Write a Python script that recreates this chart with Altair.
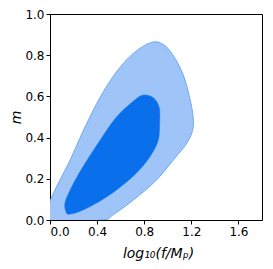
import altair as alt
import pandas as pd

# outer (95%) contour, traced clockwise
outer_x = [0.0, 0.17, 0.28, 0.42, 0.565, 0.71, 0.86, 0.96, 1.045, 1.13, 1.186, 1.215, 1.21, 1.158, 1.045, 0.904, 0.71, 0.537, 0.438, 0.0]
outer_y = [0.09, 0.29, 0.43, 0.59, 0.72, 0.81, 0.862, 0.853, 0.80, 0.706, 0.594, 0.50, 0.434, 0.37, 0.29, 0.194, 0.098, 0.026, 0.0, 0.0]

# inner (68%) contour
inner_x = [0.141, 0.127, 0.184, 0.28, 0.424, 0.565, 0.71, 0.79, 0.876, 0.927, 0.93, 0.918, 0.847, 0.73, 0.565, 0.395, 0.254, 0.17]
inner_y = [0.034, 0.082, 0.16, 0.258, 0.386, 0.50, 0.578, 0.606, 0.594, 0.546, 0.466, 0.386, 0.306, 0.226, 0.146, 0.082, 0.042, 0.029]

outer = pd.DataFrame({"x": outer_x, "y": outer_y, "i": range(len(outer_x))})
inner = pd.DataFrame({"x": inner_x, "y": inner_y, "i": range(len(inner_x))})

xs = alt.Scale(domain=[0, 1.8], nice=False)
ys = alt.Scale(domain=[0, 1.0], nice=False)

xax = alt.Axis(values=[0, 0.4, 0.8, 1.2, 1.6], format=".1f", title="log₁₀(f/Mₚ)",
               titleX=108, titleY=26, titleBaseline="top", titleAlign="center")
yax = alt.Axis(values=[0, 0.2, 0.4, 0.6, 0.8, 1.0], format=".1f", title="m",
               titleX=-27, titleY=103, titleBaseline="bottom", titleAlign="center", titleAngle=270)

o = alt.Chart(outer).mark_line(
    interpolate="cardinal-closed", fill="#9FC5F8", stroke="#6FA8EE",
    strokeWidth=1, filled=True, clip=True
).encode(
    x=alt.X("x:Q", scale=xs, axis=xax),
    y=alt.Y("y:Q", scale=ys, axis=yax),
    order="i:Q",
)
n = alt.Chart(inner).mark_line(
    interpolate="cardinal-closed", fill="#0A6FEA", stroke="#0A6FEA",
    strokeWidth=0.5, filled=True, clip=True
).encode(
    x=alt.X("x:Q", scale=xs, axis=xax),
    y=alt.Y("y:Q", scale=ys, axis=yax),
    order="i:Q",
)

chart = (o + n).properties(
    width=212, height=206,
    autosize=alt.AutoSizeParams(type="none"),
    padding={"left": 42, "top": 6, "right": 3, "bottom": 42},
).configure_view(stroke="black", strokeWidth=1).configure_axis(
    labelFont="DejaVu Sans", labelFontSize=12, labelColor="black",
    titleFont="DejaVu Sans", titleFontSize=14, titleColor="black",
    titleFontStyle="italic", titleFontWeight="normal",
    tickColor="black", domainColor="black", tickSize=4, labelPadding=2,
    grid=False,
)

chart.save("out.html", embed_options={"renderer": "svg", "actions": False})
